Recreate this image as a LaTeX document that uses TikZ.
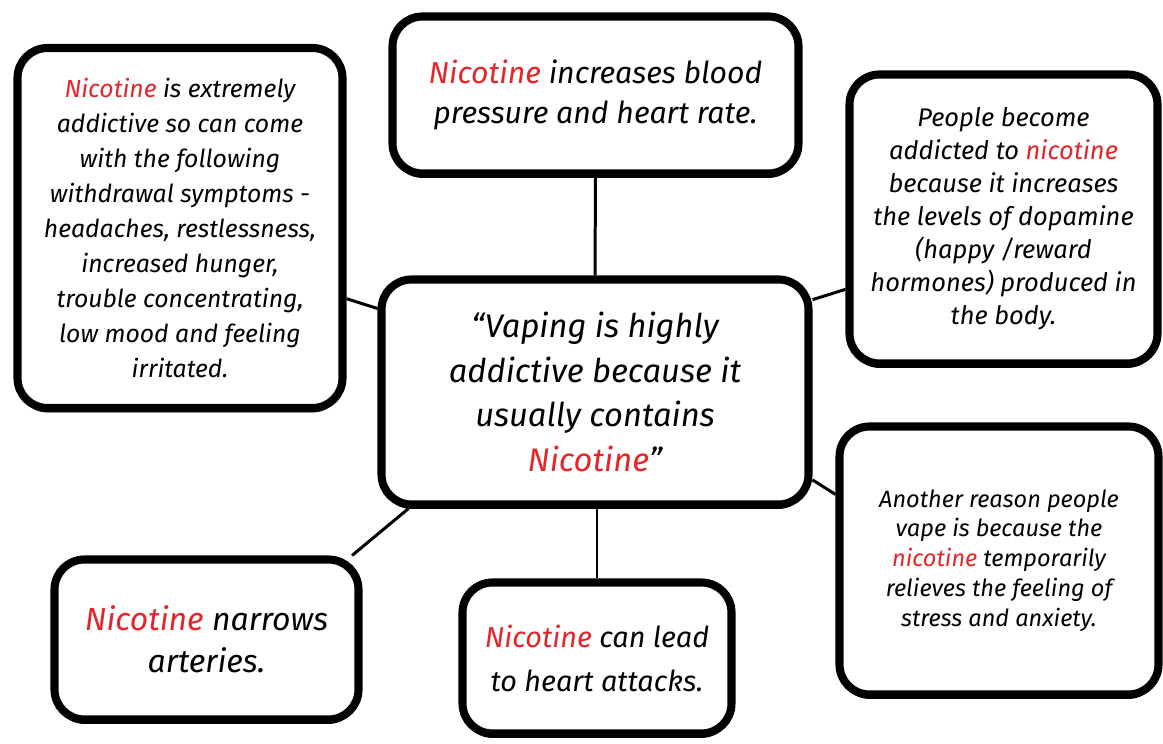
\documentclass[tikz,border=0pt]{standalone}
\usepackage{fontspec}
\setmainfont{Fira Sans}
\usetikzlibrary{shadows}
\definecolor{nicred}{RGB}{228,38,42}
\newcommand{\nic}[1]{\textcolor{nicred}{#1}}
\begin{document}
\begin{tikzpicture}
    [bubble/.style = {draw, line width=4.6pt, rounded corners=0.6cm, fill=white, align=center,
        font=\itshape, drop shadow={shadow xshift=0pt, shadow yshift=-2.5pt, fill=black, opacity=1}},
     link/.style = {line width=1.7pt}]
    \useasboundingbox (0,0) rectangle (23.26,14.86);
    \node[bubble, minimum width=8.54cm, minimum height=4.5cm, font=\itshape\fontsize{18.6}{25.5}\selectfont] (center) at (11.90,7.02)
        {``Vaping is highly\\addictive because it\\usually contains\\\nic{Nicotine}''};
    \node[bubble, minimum width=6.5cm, minimum height=7.2cm, font=\itshape\fontsize{14.1}{19.9}\selectfont] (withdrawal) at (3.60,10.30)
        {\nic{Nicotine} is extremely\\addictive so can come\\with the following\\withdrawal symptoms -\\headaches, restlessness,\\increased hunger,\\trouble concentrating,\\low mood and feeling\\irritated.};
    \node[bubble, minimum width=8.12cm, minimum height=3.14cm, font=\itshape\fontsize{17.2}{22.7}\selectfont] (blood) at (11.91,12.96)
        {\nic{Nicotine} increases blood\\pressure and heart rate.};
    \node[bubble, minimum width=6.16cm, minimum height=5.78cm, font=\itshape\fontsize{14.5}{18.8}\selectfont] (dopamine) at (20.07,10.48)
        {People become\\addicted to \nic{nicotine}\\because it increases\\the levels of dopamine\\(happy /reward\\hormones) produced in\\the body.};
    \node[bubble, minimum width=6.38cm, minimum height=5.36cm, font=\itshape\fontsize{13.4}{17}\selectfont] (stress) at (19.98,3.65)
        {Another reason people\\vape is because the\\\nic{nicotine} temporarily\\relieves the feeling of\\stress and anxiety.};
    \node[bubble, minimum width=6.08cm, minimum height=3.2cm, font=\itshape\fontsize{18.2}{24}\selectfont] (arteries) at (4.13,2.07)
        {\nic{Nicotine} narrows\\arteries.};
    \node[bubble, minimum width=5.38cm, minimum height=3.02cm, font=\itshape\fontsize{16.4}{25}\selectfont] (heart) at (11.94,1.70)
        {\nic{Nicotine} can lead\\to heart attacks.};
    \draw[link] (withdrawal.-23) -- (center.159);
    \draw[link] (blood.south) -- (center.north);
    \draw[link] (center.23) -- (dopamine.204);
    \draw[link] (center.-22) -- (stress.158);
    \draw[link] (center.212) -- (arteries.30);
    \draw[link] (heart.north) -- (heart.north |- center.south);
\end{tikzpicture}
\end{document}
